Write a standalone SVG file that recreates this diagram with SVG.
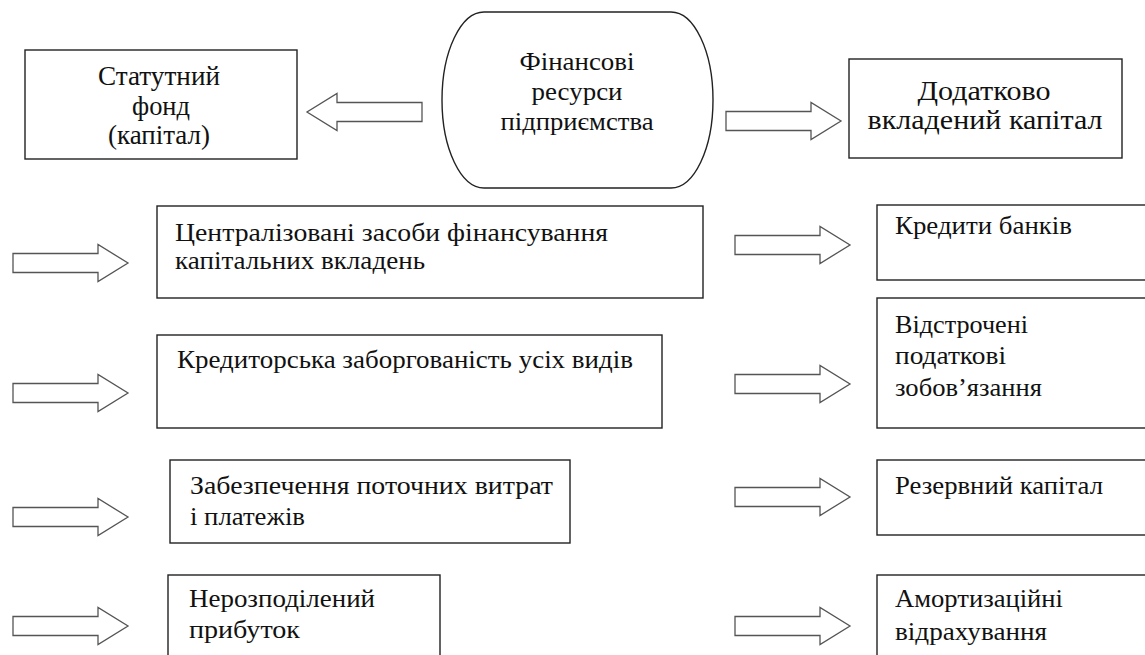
<svg xmlns="http://www.w3.org/2000/svg" width="1145" height="655" viewBox="0 0 1145 655">
<style>
.box{fill:#fff;stroke:#222;stroke-width:1.4}
.arr{fill:#fff;stroke:#555;stroke-width:1.3;stroke-linejoin:miter}
.t26{font-size:27px}
.t25{font-size:26px}
.t23{font-size:26px}
.c{text-anchor:middle}
</style>
<defs>
<polygon id="arrow" class="arr" points="0,-9.5 85,-9.5 85,-18.5 115,0 85,18.5 85,9.5 0,9.5"/>
</defs>
<rect width="1145" height="655" fill="#fff"/>
<g id="connectors">
<use href="#arrow" transform="translate(422,112) scale(-1,1)"/>
<use href="#arrow" transform="translate(726,121)"/>
<use href="#arrow" transform="translate(13,263)"/>
<use href="#arrow" transform="translate(13,393)"/>
<use href="#arrow" transform="translate(13,517)"/>
<use href="#arrow" transform="translate(13,626)"/>
<use href="#arrow" transform="translate(735,245)"/>
<use href="#arrow" transform="translate(735,384)"/>
<use href="#arrow" transform="translate(735,497)"/>
<use href="#arrow" transform="translate(735,626)"/>
</g>
<g font-family="'Liberation Serif', 'DejaVu Serif', serif" fill="#111">
<g id="finresources">
<rect class="box" x="442" y="12" width="271" height="176" rx="42" ry="88"/>
<text class="t25 c" x="577" y="70" textLength="115" lengthAdjust="spacingAndGlyphs">Фінансові</text>
<text class="t25 c" x="577" y="100" textLength="91" lengthAdjust="spacingAndGlyphs">ресурси</text>
<text class="t25 c" x="577" y="130" textLength="153" lengthAdjust="spacingAndGlyphs">підприємства</text>
</g>
<g id="statutory">
<rect class="box" x="25" y="50" width="272" height="109"/>
<text class="t26 c" x="159" y="85" textLength="122" lengthAdjust="spacingAndGlyphs">Статутний</text>
<text class="t26 c" x="161" y="115" textLength="58" lengthAdjust="spacingAndGlyphs">фонд</text>
<text class="t26 c" x="159" y="144" textLength="102" lengthAdjust="spacingAndGlyphs">(капітал)</text>
</g>
<g id="additional">
<rect class="box" x="849" y="59" width="273" height="99"/>
<text class="t26 c" x="984" y="100" textLength="133" lengthAdjust="spacingAndGlyphs">Додатково</text>
<text class="t26 c" x="985" y="129" textLength="235" lengthAdjust="spacingAndGlyphs">вкладений капітал</text>
</g>
<g id="centralized">
<rect class="box" x="157" y="206" width="546" height="92"/>
<text class="t23" x="175" y="241" textLength="433" lengthAdjust="spacingAndGlyphs">Централізовані засоби фінансування</text>
<text class="t23" x="175" y="269" textLength="250" lengthAdjust="spacingAndGlyphs">капітальних вкладень</text>
</g>
<g id="payables">
<rect class="box" x="157" y="335" width="505" height="93"/>
<text class="t23" x="177" y="368" textLength="456" lengthAdjust="spacingAndGlyphs">Кредиторська заборгованість усіх видів</text>
</g>
<g id="current">
<rect class="box" x="170" y="460" width="400" height="83"/>
<text class="t23" x="190" y="494" textLength="363" lengthAdjust="spacingAndGlyphs">Забезпечення поточних витрат</text>
<text class="t23" x="190" y="525" textLength="115" lengthAdjust="spacingAndGlyphs">і платежів</text>
</g>
<g id="retained">
<rect class="box" x="168" y="575" width="272" height="100"/>
<text class="t23" x="189" y="607" textLength="186" lengthAdjust="spacingAndGlyphs">Нерозподілений</text>
<text class="t23" x="189" y="638" textLength="111" lengthAdjust="spacingAndGlyphs">прибуток</text>
</g>
<g id="bankcredits">
<rect class="box" x="877" y="205" width="300" height="75"/>
<text class="t23" x="895" y="234" textLength="177" lengthAdjust="spacingAndGlyphs">Кредити банків</text>
</g>
<g id="deferredtax">
<rect class="box" x="877" y="298" width="300" height="130"/>
<text class="t23" x="895" y="333" textLength="133" lengthAdjust="spacingAndGlyphs">Відстрочені</text>
<text class="t23" x="895" y="364" textLength="111" lengthAdjust="spacingAndGlyphs">податкові</text>
<text class="t23" x="895" y="396" textLength="147" lengthAdjust="spacingAndGlyphs">зобов’язання</text>
</g>
<g id="reserve">
<rect class="box" x="877" y="460" width="300" height="75"/>
<text class="t23" x="895" y="494" textLength="208" lengthAdjust="spacingAndGlyphs">Резервний капітал</text>
</g>
<g id="depreciation">
<rect class="box" x="877" y="575" width="300" height="100"/>
<text class="t23" x="895" y="607" textLength="168" lengthAdjust="spacingAndGlyphs">Амортизаційні</text>
<text class="t23" x="895" y="640" textLength="152" lengthAdjust="spacingAndGlyphs">відрахування</text>
</g>
</g>
</svg>
